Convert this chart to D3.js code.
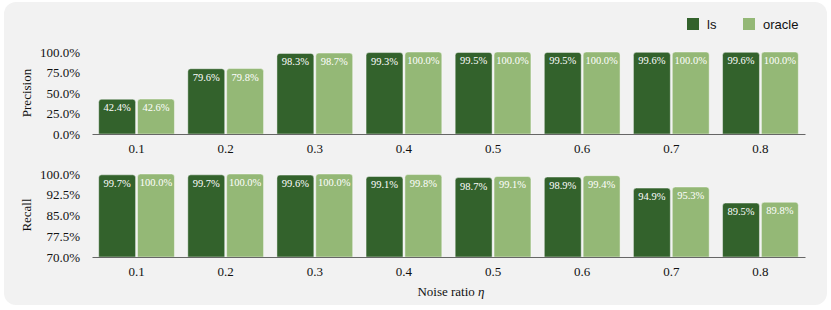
<!DOCTYPE html>
<html>
<head>
<meta charset="utf-8">
<script src="https://cdn.jsdelivr.net/npm/d3@7"></script>
<style>
  body { margin: 0; background: #fff; }
</style>
</head>
<body>
<svg id="chart" width="831" height="310"></svg>
<script>
// noise ratios on the x axis
const categories = ["0.1", "0.2", "0.3", "0.4", "0.5", "0.6", "0.7", "0.8"]
const seriesNames = ["ls", "oracle"]
const precisionLs = [42.4, 79.6, 98.3, 99.3, 99.5, 99.5, 99.6, 99.6]
const precisionOracle = [42.6, 79.8, 98.7, 100.0, 100.0, 100.0, 100.0, 100.0]
const recallLs = [99.7, 99.7, 99.6, 99.1, 98.7, 98.9, 94.9, 89.5]
const recallOracle = [100.0, 100.0, 100.0, 99.8, 99.1, 99.4, 95.3, 89.8]
const precisionTicks = [0, 25, 50, 75, 100]
const recallTicks = [70, 77.5, 85, 92.5, 100]

const colors = {ls: "#33622c", oracle: "#94b876"}
const serif = "'Liberation Serif', 'Times New Roman', Times, serif"
const sans = "'Liberation Sans', Arial, Helvetica, sans-serif"

let svg = d3.select("#chart")

svg.append("rect")
    .attr("x", 4).attr("y", 2)
    .attr("width", 823).attr("height", 303)
    .attr("rx", 12).attr("ry", 12)
    .attr("fill", "#f2f2f2")

let x = d3.scaleBand().domain(categories).range([92, 805]).paddingInner(0.15).paddingOuter(0.075)
let xInner = d3.scaleBand().domain(seriesNames).range([0, x.bandwidth()]).paddingInner(0.05)

function topRoundedBar(x0, y0, w, h, r) {
    r = Math.min(r, h)
    return `M ${x0},${y0 + h} L ${x0},${y0 + r} Q ${x0},${y0} ${x0 + r},${y0} ` +
        `L ${x0 + w - r},${y0} Q ${x0 + w},${y0} ${x0 + w},${y0 + r} L ${x0 + w},${y0 + h} Z`
}

function panel({ls, oracle, ticks, yRange, title, titleY}) {
    let y = d3.scaleLinear().domain([ticks[0], ticks[ticks.length - 1]]).range(yRange)
    let g = svg.append("g")

    let yAxis = g.append("g")
        .attr("transform", `translate(${x.range()[0] - 4},0)`)
        .call(d3.axisLeft(y).tickValues(ticks).tickSize(0).tickPadding(8)
            .tickFormat(d => d.toFixed(1) + "%"))
    yAxis.select(".domain").remove()
    yAxis.selectAll("text")
        .style("font-family", serif).style("font-size", "13px").attr("fill", "#111")

    let rows = categories.map((c, i) => [
        {cat: c, key: "ls", v: ls[i]},
        {cat: c, key: "oracle", v: oracle[i]},
    ]).flat()

    let bars = g.append("g").selectAll("g").data(rows).join("g")
    bars.append("path")
        .attr("d", d => {
            let bx = x(d.cat) + xInner(d.key)
            let by = y(d.v)
            return topRoundedBar(bx, by, xInner.bandwidth(), yRange[0] - by, 3)
        })
        .attr("fill", d => colors[d.key])
        .attr("stroke", "rgba(255,255,255,0.55)")
        .attr("stroke-width", 0.8)
    bars.append("text")
        .attr("x", d => x(d.cat) + xInner(d.key) + xInner.bandwidth() / 2)
        .attr("y", d => y(d.v) + 12)
        .attr("text-anchor", "middle")
        .style("font-family", serif).style("font-size", "10.5px")
        .attr("fill", "#fff")
        .text(d => d.v.toFixed(1) + "%")

    let xAxis = g.append("g")
        .attr("transform", `translate(0,${yRange[0]})`)
        .call(d3.axisBottom(x).tickSize(0).tickPadding(10))
    xAxis.select(".domain").attr("stroke", "#666").attr("stroke-width", 1.2)
    xAxis.selectAll("text")
        .style("font-family", serif).style("font-size", "13px").attr("fill", "#111")

    g.append("text")
        .attr("transform", `translate(31,${titleY}) rotate(-90)`)
        .attr("text-anchor", "middle")
        .style("font-family", serif).style("font-size", "13px")
        .attr("fill", "#111")
        .text(title)
}

panel({ls: precisionLs, oracle: precisionOracle, ticks: precisionTicks,
    yRange: [134, 52], title: "Precision", titleY: 93})
panel({ls: recallLs, oracle: recallOracle, ticks: recallTicks,
    yRange: [257, 174], title: "Recall", titleY: 215})

svg.append("text")
    .attr("x", 451).attr("y", 296)
    .attr("text-anchor", "middle")
    .style("font-family", serif).style("font-size", "13px")
    .attr("fill", "#111")
    .text("Noise ratio ")
    .append("tspan").style("font-style", "italic").text("η")

let legend = svg.append("g").selectAll("g")
    .data(seriesNames).join("g")
    .attr("transform", (d, i) => `translate(${[687, 743][i]},18)`)
legend.append("rect")
    .attr("width", 12).attr("height", 12)
    .attr("fill", d => colors[d])
legend.append("text")
    .attr("x", 20).attr("y", 11)
    .style("font-family", sans).style("font-size", "13px")
    .attr("fill", "#111")
    .text(d => d)
</script>
</body>
</html>
